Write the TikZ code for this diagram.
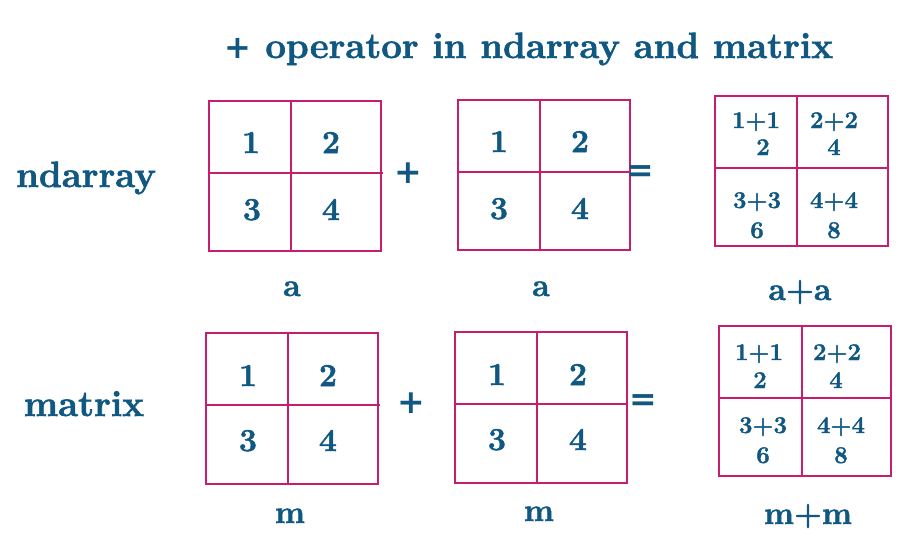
\documentclass[tikz,border=0pt]{standalone}
\usepackage{fontspec}
\setmainfont{Latin Modern Roman}[BoldFeatures={FakeBold=1.6}]
\newfontfamily\opfont{DejaVu Sans}
\definecolor{txt}{RGB}{16,88,130}
\definecolor{bdr}{RGB}{200,28,108}
\tikzset{
  gridline/.style={draw=bdr, line width=1.8pt},
  base/.style={text=txt, anchor=base, inner sep=0pt},
  ttl/.style={base, font=\bfseries\fontsize{36.5}{40}\selectfont},
  side/.style={base, font=\bfseries\fontsize{36.5}{40}\selectfont},
  under/.style={base, font=\bfseries\fontsize{32}{36}\selectfont},
  opsym/.style={text=txt, anchor=center, inner sep=0pt, font=\opfont\bfseries\fontsize{33}{36}\selectfont},
  dig/.style={base, font=\bfseries\fontsize{32}{36}\selectfont},
  sm/.style={base, font=\bfseries\fontsize{24}{28}\selectfont},
}
\begin{document}
\begin{tikzpicture}[x=1pt,y=-1pt]
\useasboundingbox (0,0) rectangle (914,549);
\fill[white] (0,0) rectangle (914,549);

% title
\node[ttl] (title) at (529,58) {{\opfont\bfseries\fontsize{32}{36}\selectfont +} operator in ndarray and matrix};

% row labels
\node[side] (lnd) at (86,187) {ndarray};
\node[side] (lmx) at (84,416) {matrix};

% grids
\draw[gridline] (209,101) rectangle (381,251) (291,101) -- (291,251) (209,173) -- (383,173);
\draw[gridline] (458,100) rectangle (630,250) (540,100) -- (540,250) (458,172) -- (630,172);
\draw[gridline] (715,96) rectangle (888,246) (797,96) -- (797,246) (715,168) -- (888,168);
\draw[gridline] (206,333) rectangle (378,484) (288,333) -- (288,484) (206,405) -- (380,405);
\draw[gridline] (455,332) rectangle (627,483) (537,332) -- (537,483) (455,404) -- (627,404);
\draw[gridline] (719,326) rectangle (891,476) (802,326) -- (802,476) (719,398) -- (891,398);

% a
\node[dig] (a11) at (251,153) {1};
\node[dig] (a12) at (331,153) {2};
\node[dig] (a13) at (252,220) {3};
\node[dig] (a14) at (331,220) {4};
\node[dig] (b11) at (499,152) {1};
\node[dig] (b12) at (580,152) {2};
\node[dig] (b13) at (499,219) {3};
\node[dig] (b14) at (580,219) {4};
% m
\node[dig] (c11) at (248,386) {1};
\node[dig] (c12) at (328,386) {2};
\node[dig] (c13) at (248,451) {3};
\node[dig] (c14) at (328,451) {4};
\node[dig] (d11) at (497,385) {1};
\node[dig] (d12) at (578,385) {2};
\node[dig] (d13) at (497,450) {3};
\node[dig] (d14) at (578,450) {4};

% sums row 1
\node[sm] (s1a) at (756,128) {1+1};
\node[sm] (s1b) at (763,155) {2};
\node[sm] (s2a) at (834,128) {2+2};
\node[sm] (s2b) at (834,155) {4};
\node[sm] (s3a) at (757,208) {3+3};
\node[sm] (s3b) at (757,238) {6};
\node[sm] (s4a) at (834,208) {4+4};
\node[sm] (s4b) at (834,238) {8};
% sums row 2
\node[sm] (t1a) at (759,360) {1+1};
\node[sm] (t1b) at (760,388) {2};
\node[sm] (t2a) at (837,360) {2+2};
\node[sm] (t2b) at (836,388) {4};
\node[sm] (t3a) at (763,433) {3+3};
\node[sm] (t3b) at (763,463) {6};
\node[sm] (t4a) at (841,433) {4+4};
\node[sm] (t4b) at (841,463) {8};

% operators
\node[opsym] (p1) at (408,173) {+};
\node[opsym] (e1) at (640,173.5) {=};
\node[opsym] (p2) at (411,403) {+};
\node[opsym] (e2) at (643,403) {=};

% under labels
\node[under] (ua1) at (292,296) {a};
\node[under] (ua2) at (541,296) {a};
\node[under] (ua3) at (800,300) {a+a};
\node[under] (um1) at (290,523) {m};
\node[under] (um2) at (539,521) {m};
\node[under] (um3) at (808,524) {m+m};
\end{tikzpicture}
\end{document}
